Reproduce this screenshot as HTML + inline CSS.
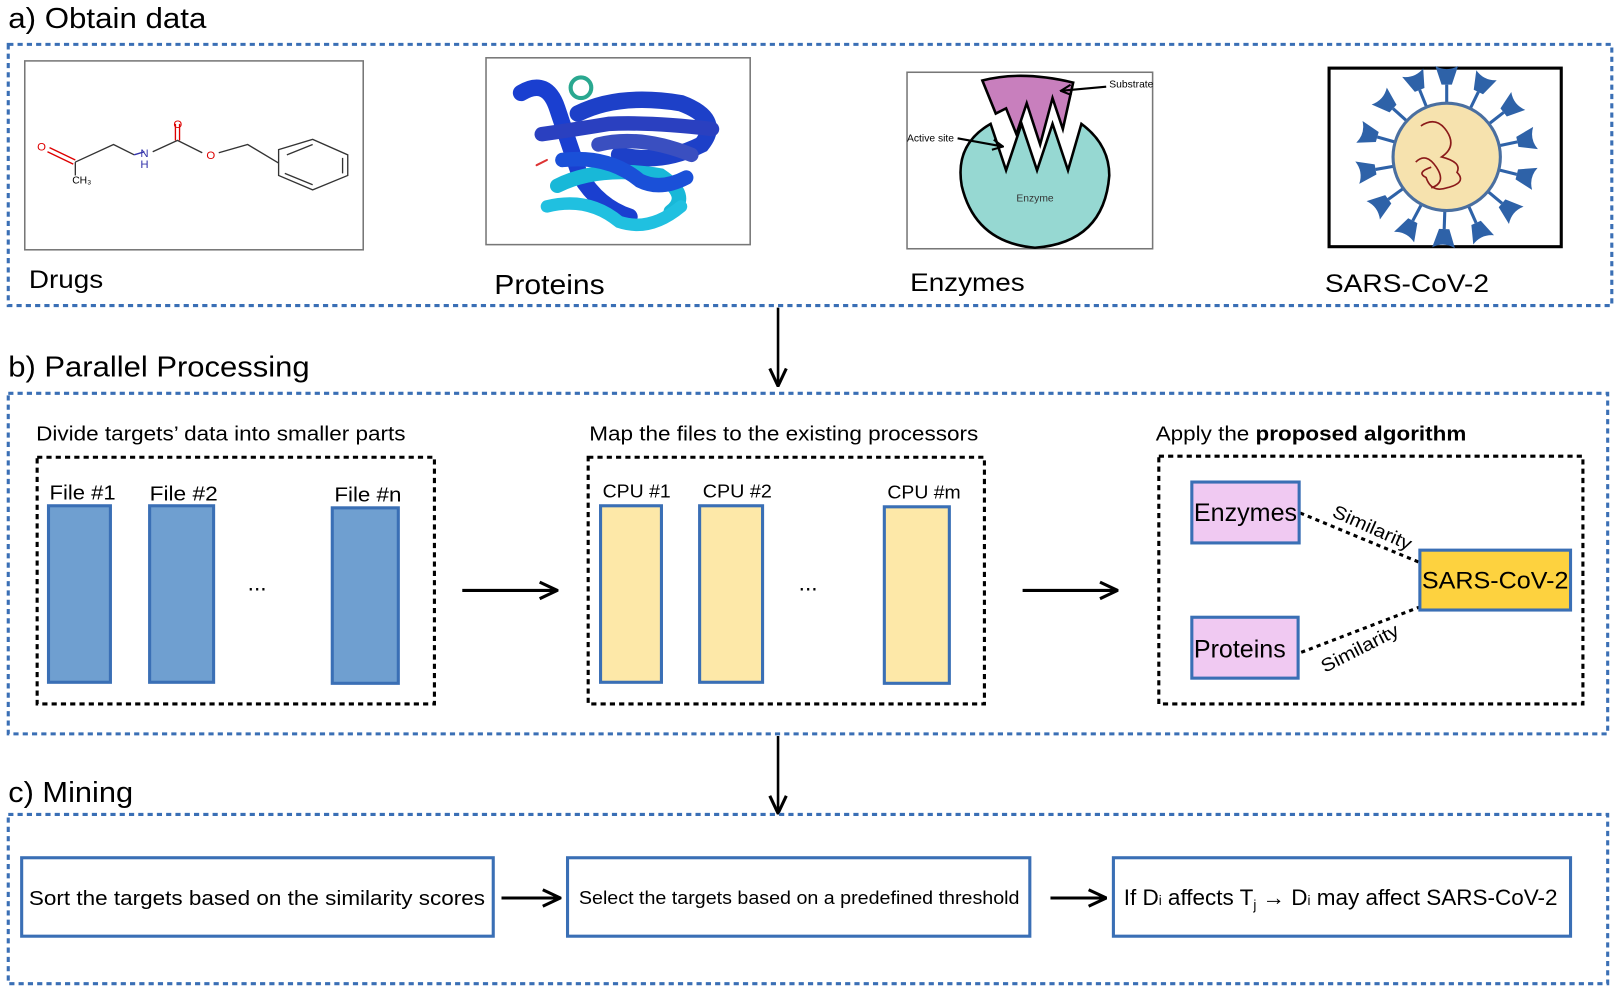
<!DOCTYPE html>
<html><head><meta charset="utf-8"><style>
html,body{margin:0;padding:0;background:#fff;}
svg{display:block;}
text{font-family:"Liberation Sans",sans-serif;}
</style></head><body>
<svg width="1618" height="994" viewBox="0 0 1568 963" preserveAspectRatio="none" xmlns="http://www.w3.org/2000/svg">
<defs>
<marker id="ah" viewBox="0 0 12 12" refX="11" refY="6" markerWidth="12" markerHeight="12" markerUnits="userSpaceOnUse" orient="auto">
<path d="M1,1 L11,6 L1,11" fill="none" stroke="#000" stroke-width="2"/>
</marker>
<marker id="ah2" viewBox="0 0 20 20" refX="19" refY="10" markerWidth="20" markerHeight="20" markerUnits="userSpaceOnUse" orient="auto">
<path d="M2,2 L19,10 L2,18" fill="none" stroke="#000" stroke-width="3"/>
</marker>
<g id="spike"><line x1="0" y1="-50" x2="0" y2="-70" stroke="#2e62a8" stroke-width="3"/><path d="M-5,-70 L5,-70 L11,-88 Q0,-82 -11,-88 Z" fill="#2e62a8"/></g>
</defs>

<!-- a) -->
<text x="8" y="27" font-size="28" textLength="192" lengthAdjust="spacingAndGlyphs">a) Obtain data</text>
<rect x="8" y="43" width="1554" height="253" fill="none" stroke="#3a6fb5" stroke-width="3" stroke-dasharray="5,4"/>
<!-- drug -->
<rect x="24" y="59" width="328" height="183" fill="#fff" stroke="#777" stroke-width="1.5"/>
<g fill="none" stroke-width="1.3">
<path d="M48,143 L73,155" stroke="#d00"/><path d="M46,147 L71,159" stroke="#d00"/>
<path d="M73,157 L110,140 L130,150" stroke="#333"/><path d="M73,157 L73,170" stroke="#333"/>
<path d="M130,150 L140,147" stroke="#33a"/><path d="M148,147 L172,136 L196,148" stroke="#333"/>
<path d="M170,136 L170,120 M174,136 L174,120" stroke="#d00"/>
<path d="M212,148 L240,140 L270,158" stroke="#333"/>
<path d="M270,145 L303,135 L337,150 L337,170 L303,184 L270,170 Z" stroke="#333"/>
<path d="M278,150 L303,140 M332,153 L332,168 M276,168 L303,179" stroke="#333"/>
</g>
<text x="36" y="146" font-size="11" fill="#d00">O</text>
<text x="136" y="152" font-size="11" fill="#33a">N</text>
<text x="136" y="163" font-size="11" fill="#33a">H</text>
<text x="168" y="124" font-size="11" fill="#d00">O</text>
<text x="200" y="154" font-size="11" fill="#d00">O</text>
<text x="70" y="178" font-size="10">CH₃</text>
<text x="28" y="279" font-size="24" textLength="72" lengthAdjust="spacingAndGlyphs">Drugs</text>
<!-- protein -->
<rect x="471" y="56" width="256" height="181" fill="#fff" stroke="#777" stroke-width="1.5"/>
<g fill="none" stroke-linecap="round">
<path d="M505,90 Q530,75 540,105 Q550,135 562,170 Q580,200 610,210" stroke="#1a3fd0" stroke-width="16"/>
<path d="M560,110 Q600,90 660,100 Q700,115 680,140 Q640,160 600,150" stroke="#1d40c8" stroke-width="16"/>
<path d="M525,130 Q560,125 590,120 Q630,118 690,125" stroke="#2a40c0" stroke-width="14"/>
<path d="M540,180 Q580,160 640,170 Q670,190 650,205" stroke="#18b8d8" stroke-width="14"/>
<path d="M580,140 Q620,130 670,150" stroke="#3a4fc0" stroke-width="14"/>
<path d="M530,200 Q570,190 600,215 Q630,225 660,200" stroke="#20c0e0" stroke-width="12"/>
<path d="M545,155 Q590,150 620,175 Q640,185 665,172" stroke="#1a50d8" stroke-width="14"/>
<circle cx="563" cy="85" r="10" stroke="#2aa890" stroke-width="4"/>
<path d="M520,160 L530,155" stroke="#d33" stroke-width="2"/>
</g>
<text x="479" y="285" font-size="27" font-family="Liberation Serif,serif" textLength="107" lengthAdjust="spacingAndGlyphs">Proteins</text>
<!-- enzyme -->
<rect x="879" y="70" width="238" height="171" fill="#fff" stroke="#777" stroke-width="1.5"/>
<path d="M960,120 Q925,140 932,180 Q945,235 1003,240 Q1070,235 1075,170 Q1075,140 1048,120 L1035,165 L1020,120 L1005,165 L990,120 L975,165 Z" fill="#96d8d2" stroke="#000" stroke-width="2.5"/>
<path d="M952,78 Q990,68 1040,80 L1030,125 L1020,95 L1008,140 L995,100 L985,130 L975,105 L965,110 Z" fill="#c87fbd" stroke="#000" stroke-width="2.5"/>
<line x1="1072" y1="84" x2="1028" y2="88" stroke="#000" stroke-width="2" marker-end="url(#ah)"/>
<line x1="928" y1="134" x2="972" y2="142" stroke="#000" stroke-width="2" marker-end="url(#ah)"/>
<text x="1075" y="85" font-size="10">Substrate</text>
<text x="879" y="137" font-size="10">Active site</text>
<text x="985" y="195" font-size="10" fill="#333">Enzyme</text>
<text x="882" y="282" font-size="24" textLength="111" lengthAdjust="spacingAndGlyphs">Enzymes</text>
<!-- virus -->
<rect x="1288" y="66" width="225" height="173" fill="#fff" stroke="#000" stroke-width="3"/>
<g transform="translate(1402,152)">
<use href="#spike" transform="rotate(0)"/><use href="#spike" transform="rotate(26)"/><use href="#spike" transform="rotate(52)"/><use href="#spike" transform="rotate(78)"/><use href="#spike" transform="rotate(104)"/><use href="#spike" transform="rotate(130)"/><use href="#spike" transform="rotate(156)"/><use href="#spike" transform="rotate(182)"/><use href="#spike" transform="rotate(208)"/><use href="#spike" transform="rotate(234)"/><use href="#spike" transform="rotate(260)"/><use href="#spike" transform="rotate(286)"/><use href="#spike" transform="rotate(312)"/><use href="#spike" transform="rotate(338)"/>
<circle r="52" fill="#f6e2ae" stroke="#4a6fa0" stroke-width="3"/>
<path d="M-25,-30 Q-10,-40 0,-25 Q10,-10 -5,0 Q15,5 10,15 Q20,25 0,30 Q-15,35 -20,20 Q-30,15 -15,10 M-30,5 Q-20,-5 -10,10 Q0,25 -15,30" fill="none" stroke="#8b1a1a" stroke-width="1.6"/>
</g>
<text x="1284" y="283" font-size="24" textLength="159" lengthAdjust="spacingAndGlyphs">SARS-CoV-2</text>

<line x1="754" y1="298" x2="754" y2="374" stroke="#000" stroke-width="2.5" marker-end="url(#ah2)"/>

<!-- b) -->
<text x="8" y="365" font-size="28" textLength="292" lengthAdjust="spacingAndGlyphs">b) Parallel Processing</text>
<rect x="8" y="381" width="1550" height="330" fill="none" stroke="#3a6fb5" stroke-width="3" stroke-dasharray="5,4"/>
<text x="35" y="427" font-size="20" textLength="358" lengthAdjust="spacingAndGlyphs">Divide targets’ data into smaller parts</text>
<rect x="36" y="443" width="385" height="239" fill="none" stroke="#000" stroke-width="3" stroke-dasharray="5,4"/>
<text x="48" y="484" font-size="20" textLength="64" lengthAdjust="spacingAndGlyphs">File #1</text><text x="145" y="485" font-size="20" textLength="66" lengthAdjust="spacingAndGlyphs">File #2</text><text x="324" y="486" font-size="20" textLength="65" lengthAdjust="spacingAndGlyphs">File #n</text>
<g fill="#6f9fd0" stroke="#3a6fb5" stroke-width="3">
<rect x="47" y="490" width="60" height="171"/><rect x="145" y="490" width="62" height="171"/><rect x="322" y="492" width="64" height="170"/>
</g>
<text x="240" y="572" font-size="22">...</text>
<line x1="448" y1="572" x2="540" y2="572" stroke="#000" stroke-width="3" marker-end="url(#ah2)"/>

<text x="571" y="427" font-size="20" textLength="377" lengthAdjust="spacingAndGlyphs">Map the files to the existing processors</text>
<rect x="570" y="443" width="384" height="239" fill="none" stroke="#000" stroke-width="3" stroke-dasharray="5,4"/>
<text x="584" y="482" font-size="18" textLength="66" lengthAdjust="spacingAndGlyphs">CPU #1</text><text x="681" y="482" font-size="18" textLength="67" lengthAdjust="spacingAndGlyphs">CPU #2</text><text x="860" y="483" font-size="18" textLength="71" lengthAdjust="spacingAndGlyphs">CPU #m</text>
<g fill="#fde8a8" stroke="#3a6fb5" stroke-width="3">
<rect x="582" y="490" width="59" height="171"/><rect x="678" y="490" width="61" height="171"/><rect x="857" y="491" width="63" height="171"/>
</g>
<text x="774" y="572" font-size="22">...</text>
<line x1="991" y1="572" x2="1083" y2="572" stroke="#000" stroke-width="3" marker-end="url(#ah2)"/>

<text x="1120" y="427" font-size="20" textLength="301" lengthAdjust="spacingAndGlyphs">Apply the <tspan font-weight="bold">proposed algorithm</tspan></text>
<rect x="1123" y="442" width="411" height="240" fill="none" stroke="#000" stroke-width="3" stroke-dasharray="5,4"/>
<g stroke="#000" stroke-width="3" stroke-dasharray="4,4">
<line x1="1260" y1="497" x2="1376" y2="545"/><line x1="1261" y1="632" x2="1376" y2="588"/>
</g>
<rect x="1155" y="467" width="104" height="59" fill="#f0c9f2" stroke="#3a6fb5" stroke-width="3"/>
<text x="1157" y="505" font-size="24" textLength="100" lengthAdjust="spacingAndGlyphs">Enzymes</text>
<rect x="1155" y="598" width="103" height="59" fill="#f0c9f2" stroke="#3a6fb5" stroke-width="3"/>
<text x="1157" y="637" font-size="24" textLength="89" lengthAdjust="spacingAndGlyphs">Proteins</text>
<rect x="1376" y="533" width="146" height="58" fill="#fdd23f" stroke="#3a6fb5" stroke-width="3"/>
<text x="1378" y="570" font-size="23" textLength="142" lengthAdjust="spacingAndGlyphs">SARS-CoV-2</text>
<text x="1290" y="500" font-size="18" transform="rotate(24 1290 500)" textLength="82" lengthAdjust="spacingAndGlyphs">Similarity</text>
<text x="1284" y="652" font-size="18" transform="rotate(-27 1284 652)" textLength="82" lengthAdjust="spacingAndGlyphs">Similarity</text>

<line x1="754" y1="713" x2="754" y2="788" stroke="#000" stroke-width="2.5" marker-end="url(#ah2)"/>

<!-- c) -->
<text x="8" y="777" font-size="28" textLength="121" lengthAdjust="spacingAndGlyphs">c) Mining</text>
<rect x="8" y="789" width="1550" height="164" fill="none" stroke="#3a6fb5" stroke-width="3" stroke-dasharray="5,4"/>
<g fill="#fff" stroke="#3a6fb5" stroke-width="3">
<rect x="21" y="831" width="457" height="76"/><rect x="550" y="831" width="448" height="76"/><rect x="1079" y="831" width="443" height="76"/>
</g>
<text x="28" y="877" font-size="20" textLength="442" lengthAdjust="spacingAndGlyphs">Sort the targets based on the similarity scores</text>
<text x="561" y="876" font-size="18" textLength="427" lengthAdjust="spacingAndGlyphs">Select the targets based on a predefined threshold</text>
<text x="1089" y="877" font-size="21.8">If D<tspan font-size="13">i</tspan> affects T<tspan font-size="13" dy="4">j</tspan><tspan dy="-4"> → D</tspan><tspan font-size="13">i</tspan> may affect SARS-CoV-2</text>
<line x1="486" y1="870" x2="543" y2="870" stroke="#000" stroke-width="3" marker-end="url(#ah2)"/>
<line x1="1018" y1="870" x2="1072" y2="870" stroke="#000" stroke-width="3" marker-end="url(#ah2)"/>
</svg>
</body></html>
